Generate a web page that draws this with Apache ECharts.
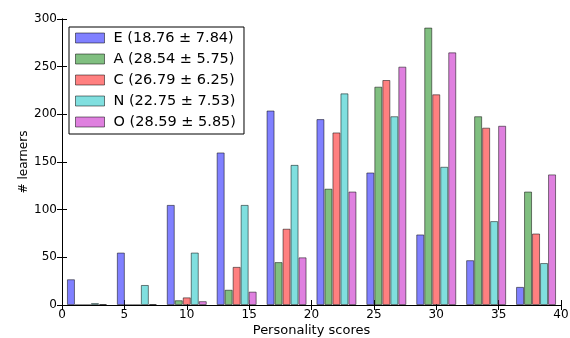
<!DOCTYPE html>
<html>
<head>
<meta charset="utf-8">
<title></title>
<script type="text/javascript" src="https://cdn.jsdelivr.net/npm/echarts@6/dist/echarts.min.js"></script>
</head>
<body style="margin:0;">
<div id="main" style="width:570px;height:338px;"></div>
<script type="text/javascript">
// bin centres (bins of width 4 from 0 to 40)
var binCenters = [2, 6, 10, 14, 18, 22, 26, 30, 34, 38];
var seriesNames = ['E (18.76 ± 7.84)', 'A (28.54 ± 5.75)', 'C (26.79 ± 6.25)', 'N (22.75 ± 7.53)', 'O (28.59 ± 5.85)'];
var countsE = [27, 55, 105, 160, 204, 195, 139, 74, 47, 19];
var countsA = [0, 0, 5, 16, 45, 122, 229, 291, 198, 119];
var countsC = [0, 0, 8, 40, 80, 181, 236, 221, 186, 75];
var countsN = [2, 21, 55, 105, 147, 222, 198, 145, 88, 44];
var countsO = [1, 1, 4, 14, 50, 119, 250, 265, 188, 137];
var colors = ['#8080ff', '#80bf80', '#ff8080', '#80dfdf', '#df80df'];

var allCounts = [countsE, countsA, countsC, countsN, countsO];
var font = 'DejaVu Sans';

var myChart = echarts.init(document.getElementById('main'));

var series = allCounts.map(function (counts, i) {
    return {
        name: seriesNames[i],
        type: 'bar',
        barWidth: 8,
        barGap: '0%',
        xAxisIndex: 0,
        yAxisIndex: 0,
        data: counts.map(function (v, j) { return [binCenters[j], v]; }),
        itemStyle: {
            color: colors[i],
            borderColor: 'rgba(0,0,0,0.5)',
            borderWidth: 1
        }
    };
});

var tickStyle = { show: true, inside: true, length: 5, lineStyle: { color: '#000' } };
var lineStyle = { show: true, lineStyle: { color: '#000', width: 1 } };

myChart.setOption({
    animation: false,
    textStyle: { fontFamily: font },
    grid: { left: 62, right: 9, top: 19, bottom: 33, outerBoundsMode: 'none', containLabel: false },
    legend: {
        orient: 'vertical',
        left: 69,
        top: 27,
        padding: [3, 8, 4, 6],
        itemGap: 5,
        itemWidth: 29,
        itemHeight: 10,
        borderColor: '#000',
        borderWidth: 1,
        backgroundColor: '#fff',
        icon: 'rect',
        textStyle: { fontFamily: font, fontSize: 14.5, color: '#000', lineHeight: 16, padding: [0, 0, 0, 4] },
        data: seriesNames.map(function (n, i) {
            return { name: n, itemStyle: { color: colors[i], borderColor: 'rgba(0,0,0,0.5)', borderWidth: 1 } };
        })
    },
    xAxis: [{
        type: 'value',
        min: 0, max: 40, interval: 5,
        name: 'Personality scores',
        nameLocation: 'middle',
        nameGap: 19,
        nameMoveOverlap: false,
        nameTextStyle: { fontFamily: font, fontSize: 13, color: '#000' },
        axisLine: lineStyle,
        axisTick: tickStyle,
        splitLine: { show: false },
        axisLabel: { fontFamily: font, fontSize: 12, color: '#000', margin: 4 }
    }, {
        type: 'value',
        position: 'top',
        min: 0, max: 40, interval: 5,
        axisLine: lineStyle,
        axisTick: tickStyle,
        splitLine: { show: false },
        axisLabel: { show: false }
    }],
    yAxis: [{
        type: 'value',
        min: 0, max: 300, interval: 50,
        name: '# learners',
        nameLocation: 'middle',
        nameGap: 32,
        nameMoveOverlap: false,
        nameTextStyle: { fontFamily: font, fontSize: 12, color: '#000' },
        axisLine: lineStyle,
        axisTick: tickStyle,
        splitLine: { show: false },
        axisLabel: { fontFamily: font, fontSize: 12, color: '#000', margin: 5 }
    }, {
        type: 'value',
        position: 'right',
        min: 0, max: 300, interval: 50,
        axisLine: lineStyle,
        axisTick: tickStyle,
        splitLine: { show: false },
        axisLabel: { show: false }
    }],
    series: series
});
</script>
</body>
</html>
